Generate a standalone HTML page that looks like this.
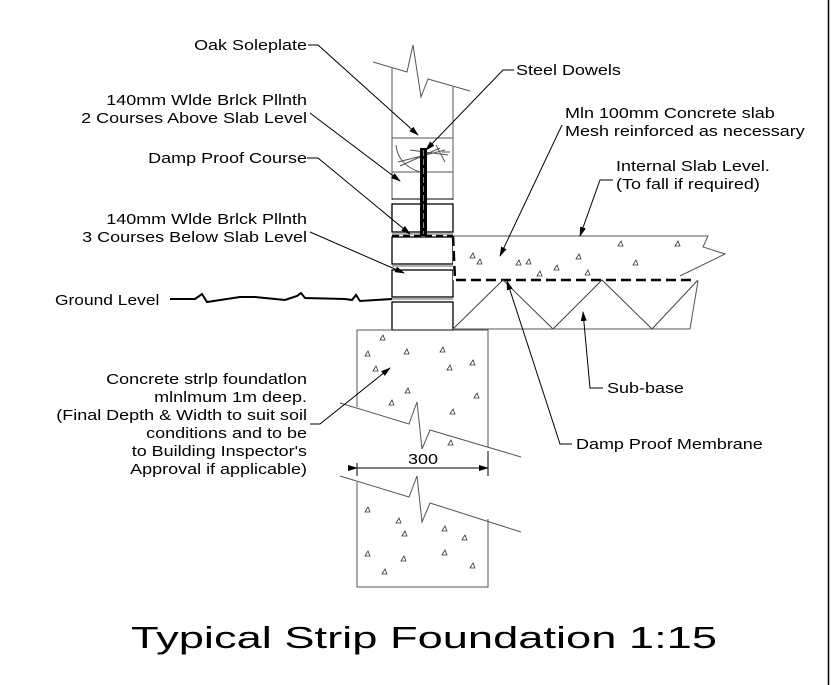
<!DOCTYPE html>
<html><head><style>
html,body{margin:0;padding:0;background:#fff;}
svg{display:block;}
text{font-family:"Liberation Sans",Arial,sans-serif;fill:#000;}
</style></head><body>
<svg width="838" height="685" viewBox="0 0 838 685" xmlns="http://www.w3.org/2000/svg">
<defs>
<marker id="ar" markerWidth="10" markerHeight="6" refX="9" refY="3" orient="auto" markerUnits="userSpaceOnUse">
<path d="M0,0 L10,3 L0,6 Z" fill="#000"/>
</marker>
</defs>
<rect width="838" height="685" fill="#fff"/>
<line x1="828.5" y1="0" x2="828.5" y2="685" stroke="#000" stroke-width="1.5"/>

<g stroke="#555" stroke-width="1" fill="none">
<polyline points="373,62 407,72 413,45 421,97 428,79 470,91"/>
<line x1="392" y1="68" x2="392" y2="200"/>
<line x1="453" y1="87" x2="453" y2="200"/>
<line x1="392" y1="138" x2="453" y2="138"/>
<line x1="392" y1="172" x2="453" y2="172"/>
<path d="M396,145 Q398,165 420,172 M398,162 L445,150 M400,166 L440,148 M410,150 L448,155 M436,145 L445,162 M442,152 L450,152"/>
</g>
<line x1="392" y1="199" x2="453" y2="199" stroke="#000"/>
<g stroke="#000" stroke-width="1.3" fill="#fff">
<rect x="392" y="204" width="61" height="28"/>
<rect x="392" y="237" width="61" height="27"/>
<rect x="392" y="270" width="61" height="27"/>
<rect x="392" y="302" width="61" height="28"/>
</g>
<g stroke="#666" stroke-width="1">
<line x1="392" y1="234" x2="453" y2="234"/>
<line x1="392" y1="266" x2="453" y2="266"/>
<line x1="392" y1="299" x2="453" y2="299"/>
</g>
<rect x="420" y="148" width="7" height="88" fill="#000"/>
<line x1="423.5" y1="150" x2="423.5" y2="234" stroke="#888" stroke-width="1" stroke-dasharray="6,3"/>
<line x1="392" y1="236" x2="453" y2="236" stroke="#000" stroke-width="2.2" stroke-dasharray="7,4"/>

<path d="M453,236 L708,236 L703,247 L725,254 L676,278 L695,280 L453,280 Z" fill="#fff" stroke="none"/>
<polyline points="453,236 708,236 703,247 725,254 680,276" fill="none" stroke="#555" stroke-width="1"/>
<polyline points="453,236 455,280 695,280" fill="none" stroke="#000" stroke-width="2.5" stroke-dasharray="10,5"/>
<polyline points="453,329 503,280 553,329 602,280 652,329 698,280" fill="none" stroke="#444" stroke-width="1"/>
<line x1="453" y1="329" x2="690" y2="329" stroke="#555"/>
<line x1="698" y1="281" x2="690" y2="329" stroke="#555"/>

<g stroke="#555" stroke-width="1" fill="none">
<polyline points="357,407 357,330 488,330 488,447"/>
<polyline points="340,403 409,424 417,402 422,449 430,430 521,457"/>
<polyline points="340,476 409,497 417,476 422,522 430,503 521,532"/>
<polyline points="357,482 357,587 488,587 488,519"/>
</g>
<g fill="none" stroke="#333" stroke-width="0.8">
<path d="M380,340 l3,-5 l2,5z M365,356 l3,-5 l2,5z M404,354 l3,-5 l2,5z M440,352 l3,-5 l2,5z M373,371 l3,-5 l2,5z M447,370 l3,-5 l2,5z M405,393 l3,-5 l2,5z M389,405 l3,-5 l2,5z M450,414 l3,-5 l2,5z M448,445 l3,-5 l2,5z M470,365 l3,-5 l2,5z M474,398 l3,-5 l2,5z"/>
<path d="M365,512 l3,-5 l2,5z M396,523 l3,-5 l2,5z M402,536 l3,-5 l2,5z M462,540 l3,-5 l2,5z M365,556 l3,-5 l2,5z M401,561 l3,-5 l2,5z M442,555 l3,-5 l2,5z M470,568 l3,-5 l2,5z M382,574 l3,-5 l2,5z M442,531 l3,-5 l2,5z"/>
<path d="M470,258 l3,-5 l2,5z M477,264 l3,-5 l2,5z M516,265 l3,-5 l2,5z M526,264 l3,-5 l2,5z M576,259 l3,-5 l2,5z M585,275 l3,-5 l2,5z M633,265 l3,-5 l2,5z M675,246 l3,-5 l2,5z M618,246 l3,-5 l2,5z M554,270 l3,-5 l2,5z M537,276 l3,-5 l2,5z"/>
</g>
<g stroke="#000" stroke-width="1">
<line x1="357" y1="463" x2="357" y2="476"/>
<line x1="488" y1="451" x2="488" y2="476"/>
<line x1="357" y1="468" x2="488" y2="468" marker-start="url(#ar)" marker-end="url(#ar)"/>
</g>
<text x="423" y="464" font-size="15" text-anchor="middle" transform="translate(423,0) scale(1.2,1) translate(-423,0)">300</text>

<polyline points="170,299 195,299 202,294 207,302 240,297 255,297 285,300 297,296 301,293 305,298 345,299 352,300 356,295 360,301 392,299" fill="none" stroke="#000" stroke-width="2"/>

<g stroke="#000" stroke-width="1" fill="none">
<polyline points="308,45 318,45 418,135" marker-end="url(#ar)"/>
<polyline points="514,70 503,70 426,150" marker-end="url(#ar)"/>
<polyline points="310,113 400,181" marker-end="url(#ar)"/>
<polyline points="307,158 318,158 410,234" marker-end="url(#ar)"/>
<polyline points="310,232 404,273" marker-end="url(#ar)"/>
<polyline points="562,125 500,256" marker-end="url(#ar)"/>
<polyline points="613,180 600,180 580,236" marker-end="url(#ar)"/>
<polyline points="603,388 590,388 583,312" marker-end="url(#ar)"/>
<polyline points="572,444 560,444 507,281" marker-end="url(#ar)"/>
<polyline points="310,424 320,424 390,368" marker-end="url(#ar)"/>
</g>

<g font-size="14.5" transform="translate(307,0) scale(1.24,1) translate(-307,0)">
<text x="307" y="50" text-anchor="end">Oak Soleplate</text>
<text x="307" y="105" text-anchor="end">140mm Wlde Brlck Pllnth</text>
<text x="307" y="123" text-anchor="end">2 Courses Above Slab Level</text>
<text x="307" y="163" text-anchor="end">Damp Proof Course</text>
<text x="307" y="224" text-anchor="end">140mm Wlde Brlck Pllnth</text>
<text x="307" y="242" text-anchor="end">3 Courses Below Slab Level</text>
<text x="307" y="384" text-anchor="end">Concrete strlp foundatlon</text>
<text x="307" y="402" text-anchor="end">mlnlmum 1m deep.</text>
<text x="307" y="420" text-anchor="end">(Final Depth &amp; Width to suit soil</text>
<text x="307" y="438" text-anchor="end">conditions and to be</text>
<text x="307" y="456" text-anchor="end">to Building Inspector's</text>
<text x="307" y="474" text-anchor="end">Approval if applicable)</text>
</g>
<g font-size="14.5">
<text x="55" y="305" transform="translate(55,0) scale(1.2,1) translate(-55,0)">Ground Level</text>
<text x="516" y="75" transform="translate(516,0) scale(1.24,1) translate(-516,0)">Steel Dowels</text>
<g transform="translate(565,0) scale(1.24,1) translate(-565,0)">
<text x="565" y="118">Mln 100mm Concrete slab</text>
<text x="565" y="136">Mesh reinforced as necessary</text>
</g>
<g transform="translate(616,0) scale(1.24,1) translate(-616,0)">
<text x="616" y="171">Internal Slab Level.</text>
<text x="616" y="189">(To fall if required)</text>
</g>
<text x="607" y="393" transform="translate(607,0) scale(1.24,1) translate(-607,0)">Sub-base</text>
<text x="576" y="449" transform="translate(576,0) scale(1.24,1) translate(-576,0)">Damp Proof Membrane</text>
</g>
<text x="131" y="648" font-size="31" textLength="586" lengthAdjust="spacingAndGlyphs">Typical Strip Foundation 1:15</text>
</svg>
</body></html>
